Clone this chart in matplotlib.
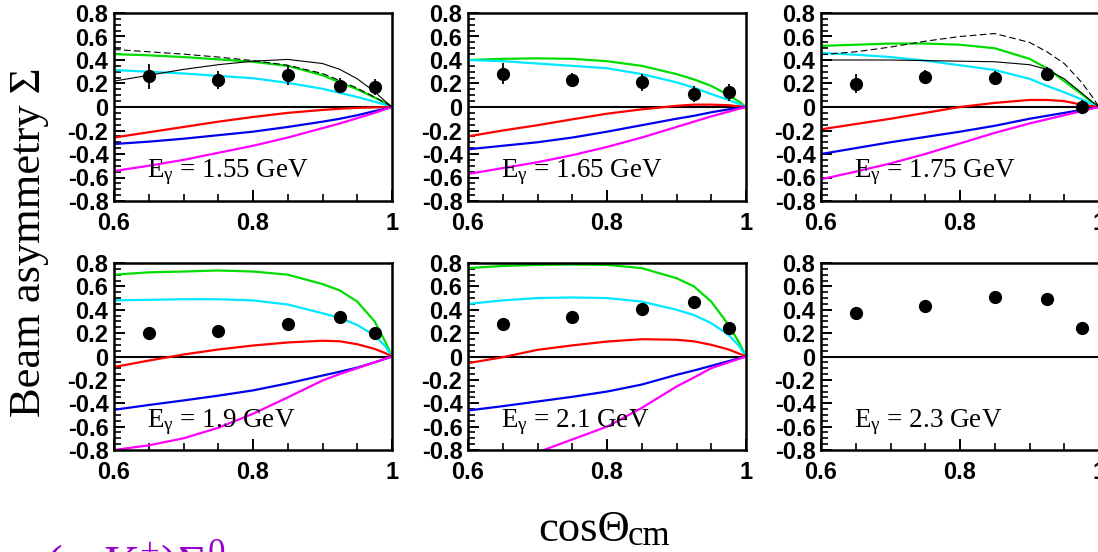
import numpy as np
import matplotlib
matplotlib.use('Agg')
import matplotlib.pyplot as plt
from matplotlib.ticker import MultipleLocator, FuncFormatter

plt.rcParams['font.family'] = ['Liberation Sans', 'DejaVu Sans']
plt.rcParams['mathtext.fontset'] = 'custom'
plt.rcParams['mathtext.rm'] = 'Liberation Serif'
plt.rcParams['mathtext.it'] = 'Liberation Serif:italic'
plt.rcParams['axes.unicode_minus'] = False

cos_grid = [0.6, 0.65, 0.7, 0.75, 0.8, 0.85, 0.9, 0.925, 0.95, 0.975, 0.99, 1.0]
# data bins
cos_data = [0.65, 0.75, 0.85, 0.925, 0.975]

energies = ['1.55', '1.65', '1.75', '1.9', '2.1', '2.3']

# measured beam asymmetry
sigma_155 = [0.26, 0.23, 0.27, 0.18, 0.17]
err_155 = [0.11, 0.075, 0.08, 0.065, 0.07]
sigma_165 = [0.285, 0.23, 0.21, 0.11, 0.125]
err_165 = [0.09, 0.06, 0.07, 0.07, 0.07]
sigma_175 = [0.20, 0.255, 0.25, 0.28, 0.0]
err_175 = [0.08, 0.06, 0.06, 0.06, 0.06]
sigma_190 = [0.20, 0.217, 0.28, 0.337, 0.20]
err_190 = [0.03, 0.03, 0.03, 0.03, 0.03]
sigma_210 = [0.277, 0.342, 0.405, 0.47, 0.24]
err_210 = [0.03, 0.03, 0.03, 0.03, 0.03]
sigma_230 = [0.37, 0.428, 0.513, 0.49, 0.248]
err_230 = [0.03, 0.03, 0.03, 0.03, 0.03]

# model curves, 1.55 GeV
green_155 = [0.45, 0.44, 0.425, 0.405, 0.385, 0.35, 0.27, 0.21, 0.15, 0.08, 0.035, 0.0]
cyan_155 = [0.315, 0.30, 0.285, 0.265, 0.245, 0.205, 0.155, 0.12, 0.085, 0.045, 0.02, 0.0]
red_155 = [-0.26, -0.215, -0.17, -0.125, -0.085, -0.05, -0.025, -0.015, -0.007, -0.003, -0.001, 0.0]
blue_155 = [-0.315, -0.295, -0.27, -0.24, -0.21, -0.17, -0.125, -0.10, -0.07, -0.035, -0.015, 0.0]
magenta_155 = [-0.545, -0.50, -0.45, -0.39, -0.33, -0.26, -0.18, -0.14, -0.095, -0.05, -0.02, 0.0]
black_155 = [0.22, 0.27, 0.32, 0.36, 0.39, 0.405, 0.37, 0.32, 0.24, 0.13, 0.05, 0.0]
dashed_155 = [0.49, 0.47, 0.45, 0.425, 0.395, 0.355, 0.285, 0.225, 0.16, 0.085, 0.035, 0.0]

# 1.65 GeV
green_165 = [0.40, 0.41, 0.414, 0.41, 0.39, 0.35, 0.28, 0.235, 0.18, 0.10, 0.045, 0.0]
cyan_165 = [0.40, 0.39, 0.37, 0.35, 0.33, 0.28, 0.21, 0.165, 0.11, 0.06, 0.025, 0.0]
red_165 = [-0.25, -0.20, -0.155, -0.105, -0.057, -0.02, 0.01, 0.02, 0.02, 0.015, 0.006, 0.0]
blue_165 = [-0.36, -0.33, -0.30, -0.26, -0.21, -0.155, -0.10, -0.075, -0.045, -0.02, -0.008, 0.0]
magenta_165 = [-0.57, -0.52, -0.47, -0.41, -0.34, -0.26, -0.17, -0.125, -0.08, -0.04, -0.015, 0.0]

# 1.75 GeV
green_175 = [0.52, 0.53, 0.54, 0.54, 0.53, 0.50, 0.41, 0.33, 0.22, 0.11, 0.04, 0.0]
cyan_175 = [0.46, 0.445, 0.425, 0.395, 0.355, 0.315, 0.24, 0.18, 0.125, 0.065, 0.025, 0.0]
red_175 = [-0.19, -0.145, -0.10, -0.05, 0.0, 0.035, 0.06, 0.06, 0.05, 0.02, 0.007, 0.0]
blue_175 = [-0.40, -0.35, -0.30, -0.255, -0.21, -0.16, -0.10, -0.075, -0.05, -0.025, -0.01, 0.0]
magenta_175 = [-0.615, -0.55, -0.48, -0.40, -0.31, -0.22, -0.14, -0.105, -0.07, -0.035, -0.013, 0.0]
black_175 = [0.40, 0.40, 0.40, 0.395, 0.39, 0.385, 0.36, 0.32, 0.24, 0.12, 0.045, 0.0]
dashed_175 = [0.445, 0.47, 0.51, 0.56, 0.60, 0.625, 0.55, 0.47, 0.37, 0.21, 0.09, 0.0]

# 1.9 GeV
green_190 = [0.70, 0.72, 0.727, 0.736, 0.727, 0.70, 0.62, 0.565, 0.47, 0.30, 0.13, 0.0]
cyan_190 = [0.48, 0.485, 0.49, 0.49, 0.48, 0.445, 0.37, 0.33, 0.27, 0.18, 0.09, 0.0]
red_190 = [-0.09, -0.035, 0.017, 0.06, 0.094, 0.12, 0.135, 0.13, 0.105, 0.065, 0.03, 0.0]
blue_190 = [-0.456, -0.415, -0.376, -0.335, -0.29, -0.23, -0.163, -0.13, -0.095, -0.05, -0.02, 0.0]
magenta_190 = [-0.80, -0.76, -0.70, -0.61, -0.49, -0.35, -0.205, -0.15, -0.10, -0.05, -0.02, 0.0]

# 2.1 GeV
green_210 = [0.756, 0.775, 0.784, 0.787, 0.784, 0.756, 0.67, 0.6, 0.47, 0.27, 0.12, 0.0]
cyan_210 = [0.45, 0.48, 0.50, 0.505, 0.50, 0.47, 0.40, 0.355, 0.285, 0.185, 0.09, 0.0]
red_210 = [-0.057, -0.006, 0.057, 0.095, 0.128, 0.148, 0.143, 0.13, 0.10, 0.06, 0.025, 0.0]
blue_210 = [-0.462, -0.425, -0.385, -0.345, -0.30, -0.24, -0.157, -0.12, -0.08, -0.04, -0.015, 0.0]
magenta_210 = [-1.05, -0.93, -0.82, -0.71, -0.60, -0.44, -0.257, -0.18, -0.10, -0.05, -0.02, 0.0]

data_sets = [(sigma_155, err_155), (sigma_165, err_165), (sigma_175, err_175),
             (sigma_190, err_190), (sigma_210, err_210), (sigma_230, err_230)]
curve_sets = [
    [green_155, cyan_155, red_155, blue_155, magenta_155],
    [green_165, cyan_165, red_165, blue_165, magenta_165],
    [green_175, cyan_175, red_175, blue_175, magenta_175],
    [green_190, cyan_190, red_190, blue_190, magenta_190],
    [green_210, cyan_210, red_210, blue_210, magenta_210],
    [],
]
black_sets = {0: (black_155, dashed_155), 2: (black_175, dashed_175)}
colors = ['#00dd00', '#00e8ff', '#ff0000', '#0000ee', '#ff00ff']

W, H = 1098, 552
fig = plt.figure(figsize=(W / 100, H / 100), dpi=100)

lefts = [114, 468, 821]
rows = [(201, 188), (450, 187)]
serif = 'Liberation Serif'


def yfmt(v, pos):
    if abs(v) < 1e-9:
        return '0'
    return '%.1f' % v


def xfmt(v, pos):
    if abs(v - 1) < 1e-9:
        return '1'
    return '%.1f' % v


for i in range(6):
    r, c = divmod(i, 3)
    bottom_px, h_px = rows[r]
    ax = fig.add_axes([lefts[c] / W, (H - bottom_px) / H, 278 / W, h_px / H])
    ax.set_xlim(0.6, 1.0)
    ax.set_ylim(-0.8, 0.8)

    ax.axhline(0, color='black', lw=1.5, zorder=1)
    for vals, col in zip(curve_sets[i], colors):
        ax.plot(cos_grid, vals, color=col, lw=1.6, zorder=2, solid_joinstyle='round')
    if i in black_sets:
        solid, dashed = black_sets[i]
        ax.plot(cos_grid, solid, color='black', lw=0.8, zorder=2)
        ax.plot(cos_grid, dashed, color='black', lw=0.8, ls=(0, (6, 3)), zorder=2)

    vals, errs = data_sets[i]
    ax.errorbar(cos_data, vals, yerr=errs, fmt='o', color='black', ms=8.5,
                elinewidth=1.3, capsize=0, zorder=3)

    ax.text(0.648, -0.6, r'E$_{\mathrm{\gamma}}$ = %s GeV' % energies[i],
            family=serif, fontsize=19.5, ha='left', va='baseline', zorder=4)

    ax.xaxis.set_major_locator(MultipleLocator(0.2))
    ax.xaxis.set_minor_locator(MultipleLocator(0.05))
    ax.yaxis.set_major_locator(MultipleLocator(0.2))
    ax.yaxis.set_minor_locator(MultipleLocator(0.05))
    ax.xaxis.set_major_formatter(FuncFormatter(xfmt))
    ax.yaxis.set_major_formatter(FuncFormatter(yfmt))
    ax.tick_params(which='both', direction='in', top=False, right=False)
    ax.tick_params(which='major', length=8, width=1.4)
    ax.tick_params(which='minor', length=5, width=1.2)
    ax.tick_params(axis='y', which='major', pad=4)
    ax.tick_params(axis='x', which='major', pad=8)
    for lab in ax.get_xticklabels() + ax.get_yticklabels():
        lab.set_fontsize(17)
        lab.set_fontweight('bold')
    for sp in ax.spines.values():
        sp.set_linewidth(1.8)

fig.text(29 / W, 1 - 242 / H, 'Beam asymmetry Σ', rotation=90, family=serif,
         fontsize=32, ha='center', va='center')
fig.text(538 / W, (H - 541) / H, 'cosΘ', family=serif,
         fontsize=32, ha='left', va='baseline')
fig.text(628 / W, (H - 545) / H, 'cm', family=serif,
         fontsize=25, ha='left', va='baseline')
fig.text(45 / W, (H - 538) / H, r'$\mathrm{(\gamma,K^{+})\Sigma^{0}}$',
         color='#9900cc', fontsize=36, ha='left', va='top')

fig.savefig('out.png', dpi=100)
